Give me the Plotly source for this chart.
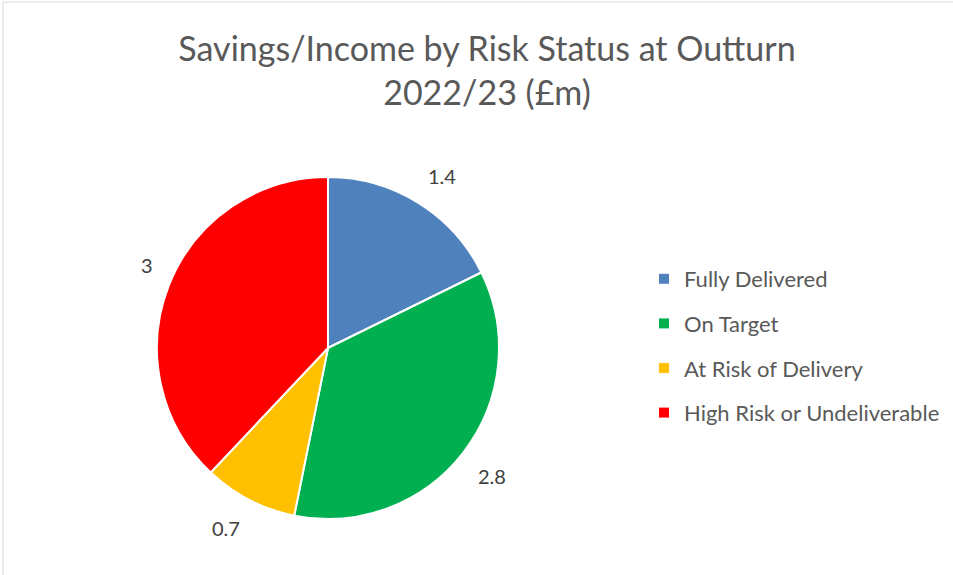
import math
import plotly.graph_objects as go

categories = ["Fully Delivered", "On Target", "At Risk of Delivery", "High Risk or Undeliverable"]
values = [1.4, 2.8, 0.7, 3]
colors = ["#4F81BD", "#00B050", "#FFC000", "#FF0000"]
title_text = "Savings/Income by Risk Status at Outturn<br>2022/23 (£m)"

W, H = 953, 575
cx, cy, r = 328, 348, 171  # pie centre / radius in pixels

fig = go.Figure()
fig.add_trace(go.Pie(
    labels=categories, values=values, sort=False, direction="clockwise", rotation=0,
    marker=dict(colors=colors, line=dict(color="white", width=2)),
    textinfo="none", hoverinfo="label+value", showlegend=False,
    domain=dict(x=[(cx - r) / W, (cx + r) / W], y=[(H - cy - r) / H, (H - cy + r) / H]),
))

# legend entries (dummy traces so spacing can match)
for i, (c, col) in enumerate(zip(categories, colors)):
    fig.add_trace(go.Scatter(x=[None], y=[None], mode="markers", name=c,
                             marker=dict(symbol="square", size=10, color=col),
                             legendgroup=f"g{i}", showlegend=True))

# data labels positioned outside each slice by mid-angle
total = sum(values)
cum = 0
for v in values:
    mid = (cum + v / 2) / total * 2 * math.pi
    cum += v
    s, c = math.sin(mid), math.cos(mid)
    px = cx + 1.09 * r * s
    py = cy - 1.09 * r * c
    fig.add_annotation(x=px / W, y=1 - py / H, xref="paper", yref="paper",
                       text=f"{v:g}", showarrow=False,
                       font=dict(family="Lato", size=20, color="#404040"),
                       xanchor="left" if s > 0 else "right",
                       yanchor="bottom" if c > 0 else "top")

fig.add_shape(type="rect", xref="paper", yref="paper",
              x0=3 / W, x1=1.02, y0=-0.02, y1=1 - 2 / H,
              line=dict(color="#D9D9D9", width=1), fillcolor="rgba(0,0,0,0)")

fig.update_layout(
    width=W, height=H, autosize=False,
    margin=dict(l=0, r=0, t=0, b=0),
    paper_bgcolor="white", plot_bgcolor="white",
    title=dict(text=title_text, x=487 / W, xanchor="center", y=1 - 61 / H, yanchor="middle",
               yref="container", xref="container",
               font=dict(family="Lato", size=34, color="#595959")),
    xaxis=dict(visible=False), yaxis=dict(visible=False),
    legend=dict(x=644 / W, y=1 - 346 / H, xanchor="left", yanchor="middle",
                font=dict(family="Lato", size=22, color="#595959"),
                tracegroupgap=13, traceorder="grouped", bgcolor="rgba(0,0,0,0)"),
)

fig.write_html("out.html", config={"displayModeBar": False},
               post_script="document.body.style.margin='0';document.body.style.overflow='hidden';")
